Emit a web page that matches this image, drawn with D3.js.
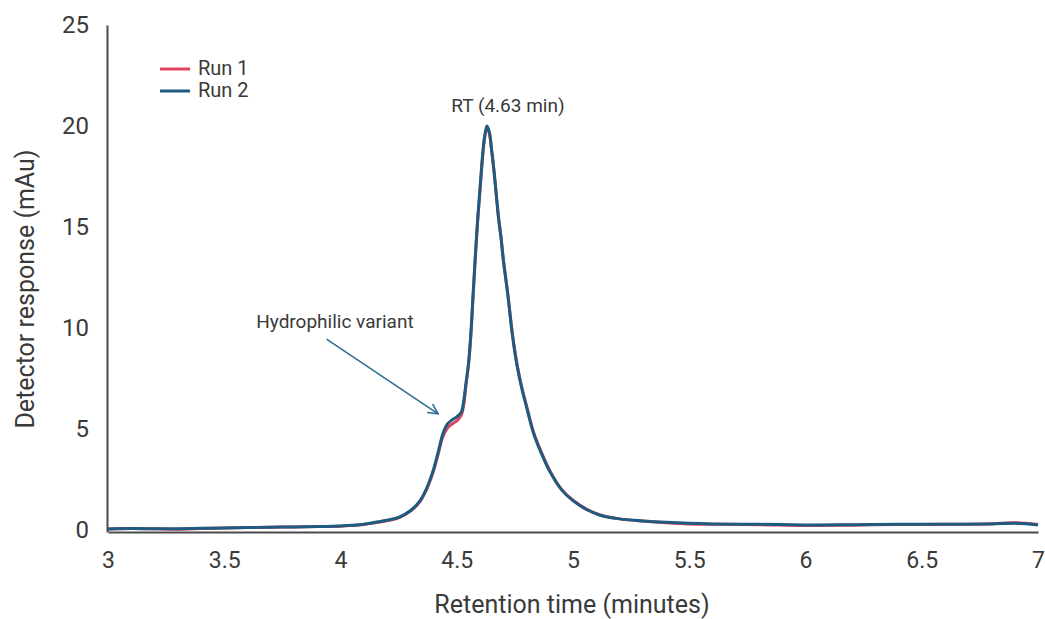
<!DOCTYPE html>
<html>
<head>
<meta charset="utf-8">
<script src="https://cdn.jsdelivr.net/npm/d3@7"></script>
<style>
  html, body { margin: 0; padding: 0; background: #fff; }
  svg { display: block; font-family: Roboto, "Liberation Sans", sans-serif; }
</style>
</head>
<body>
<svg id="chart" width="1045" height="619"></svg>
<script>
// ---- Data ----
const times = [3.00,3.10,3.20,3.30,3.40,3.50,3.60,3.70,3.80,3.90,4.00,4.05,4.10,4.15,4.20,4.25,4.30,4.34,4.37,4.40,4.42,4.44,4.46,4.48,4.50,4.52,4.53,4.54,4.55,4.56,4.57,4.58,4.59,4.60,4.61,4.62,4.63,4.64,4.65,4.66,4.67,4.68,4.69,4.70,4.72,4.74,4.76,4.78,4.80,4.83,4.86,4.90,4.95,5.00,5.06,5.12,5.20,5.30,5.40,5.50,5.60,5.80,6.00,6.20,6.40,6.60,6.80,6.90,7.00];

const run1 = [0.05,0.07,0.06,0.04,0.07,0.10,0.12,0.13,0.15,0.17,0.19,0.22,0.27,0.36,0.46,0.60,0.92,1.38,2.00,2.92,3.75,4.60,5.05,5.25,5.40,5.70,6.20,7.20,8.10,9.50,11.50,13.50,15.30,16.80,18.30,19.40,19.90,19.65,18.80,17.80,16.60,15.45,14.55,13.45,11.65,9.65,8.15,7.05,6.15,4.85,3.95,2.95,2.02,1.47,1.02,0.73,0.55,0.44,0.36,0.30,0.28,0.26,0.22,0.24,0.27,0.28,0.31,0.36,0.27];

const run2 = [0.05,0.07,0.06,0.06,0.08,0.10,0.12,0.14,0.15,0.17,0.20,0.23,0.28,0.38,0.48,0.62,0.95,1.42,2.05,3.00,3.85,4.75,5.25,5.45,5.60,5.85,6.40,7.30,8.20,9.60,11.60,13.60,15.40,16.90,18.40,19.50,20.00,19.70,18.80,17.80,16.60,15.40,14.50,13.40,11.60,9.60,8.10,7.00,6.10,4.80,3.90,2.90,2.00,1.45,1.00,0.72,0.55,0.45,0.38,0.33,0.30,0.28,0.25,0.26,0.28,0.28,0.30,0.33,0.25];

const seriesNames = ["Run 1", "Run 2"];
const seriesColors = ["#e0435f", "#1d5b80"];

const xTicks = [3, 3.5, 4, 4.5, 5, 5.5, 6, 6.5, 7];
const xTickLabels = ["3", "3.5", "4", "4.5", "5", "5.5", "6", "6.5", "7"];
const yTicks = [0, 5, 10, 15, 20, 25];
const yTickLabels = ["0", "5", "10", "15", "20", "25"];

const xTitle = "Retention time (minutes)";
const yTitle = "Detector response (mAu)";

// annotations in data coordinates
const peakLabel = { text: "RT (4.63 min)", t: 4.72, v: 20.7 };
const variantLabel = { text: "Hydrophilic variant", t: 3.976, v: 10.0 };
const arrowFrom = { t: 3.94, v: 9.45 };
const arrowTo = { t: 4.42, v: 5.75 };

// ---- Layout ----
const svg = d3.select("#chart");
const x = d3.scaleLinear().domain([3, 7]).range([108, 1038]);
const y = d3.scaleLinear().domain([-0.1, 25]).range([532, 25]);
const textColor = "#3a3a3a";

// axes
const xAxis = d3.axisBottom(x)
  .tickValues(xTicks)
  .tickSize(0)
  .tickPadding(0)
  .tickFormat((d, i) => xTickLabels[i]);
const gx = svg.append("g").attr("transform", `translate(0,${y(-0.1)})`).call(xAxis);
gx.select(".domain").attr("stroke", "#4a4a4a").attr("stroke-width", 2);
gx.selectAll("text")
  .attr("y", 0).attr("dy", "36px")
  .attr("fill", textColor)
  .style("font-size", "23px")
  .style("font-family", "Roboto, 'Liberation Sans', sans-serif");

const yAxis = d3.axisLeft(y)
  .tickValues(yTicks)
  .tickSize(0)
  .tickPadding(0)
  .tickFormat((d, i) => yTickLabels[i]);
const gy = svg.append("g").attr("transform", `translate(${x(3) - 1},0)`).call(yAxis);
gy.select(".domain").attr("stroke", "#4a4a4a").attr("stroke-width", 2);
gy.selectAll("text")
  .attr("x", -18).attr("dy", "0.32em")
  .attr("fill", textColor)
  .style("font-size", "24px")
  .style("font-family", "Roboto, 'Liberation Sans', sans-serif");

// axis titles
svg.append("text")
  .attr("x", 572).attr("y", 613)
  .attr("text-anchor", "middle")
  .attr("fill", textColor)
  .style("font-size", "25px")
  .text(xTitle);

svg.append("text")
  .attr("transform", "translate(34,289) rotate(-90)")
  .attr("text-anchor", "middle")
  .attr("fill", textColor)
  .style("font-size", "25px")
  .text(yTitle);

// lines
const line = d3.line()
  .x((d, i) => x(times[i]))
  .y(d => y(d))
  .curve(d3.curveCatmullRom.alpha(0.5));

const allRuns = [run1, run2];
allRuns.forEach((vals, k) => {
  svg.append("path")
    .datum(vals)
    .attr("fill", "none")
    .attr("stroke", seriesColors[k])
    .attr("stroke-width", 3)
    .attr("stroke-linejoin", "round")
    .attr("d", line);
});

// legend
const legend = svg.append("g");
seriesNames.forEach((name, k) => {
  const ly = 69 + k * 22;
  legend.append("line")
    .attr("x1", 160).attr("x2", 190)
    .attr("y1", ly).attr("y2", ly)
    .attr("stroke", seriesColors[k]).attr("stroke-width", 3);
  legend.append("text")
    .attr("x", 198).attr("y", ly + 6)
    .attr("fill", textColor)
    .style("font-size", "20px")
    .text(name);
});

// annotations
svg.append("text")
  .attr("x", x(peakLabel.t)).attr("y", y(peakLabel.v))
  .attr("text-anchor", "middle")
  .attr("fill", textColor)
  .style("font-size", "19px")
  .text(peakLabel.text);

svg.append("text")
  .attr("x", x(variantLabel.t)).attr("y", y(variantLabel.v))
  .attr("text-anchor", "middle")
  .attr("fill", textColor)
  .style("font-size", "19px")
  .text(variantLabel.text);

const arrowColor = "#2f6f93";
svg.append("defs").append("marker")
  .attr("id", "arrowhead")
  .attr("viewBox", "0 0 12 12")
  .attr("refX", 11).attr("refY", 6)
  .attr("markerWidth", 12).attr("markerHeight", 12)
  .attr("markerUnits", "userSpaceOnUse")
  .attr("orient", "auto")
  .append("path")
  .attr("d", "M1,1 L11,6 L1,11")
  .attr("fill", "none")
  .attr("stroke", arrowColor)
  .attr("stroke-width", 1.6);

svg.append("line")
  .attr("x1", x(arrowFrom.t)).attr("y1", y(arrowFrom.v))
  .attr("x2", x(arrowTo.t)).attr("y2", y(arrowTo.v))
  .attr("stroke", arrowColor)
  .attr("stroke-width", 1.6)
  .attr("marker-end", "url(#arrowhead)");
</script>
</body>
</html>
